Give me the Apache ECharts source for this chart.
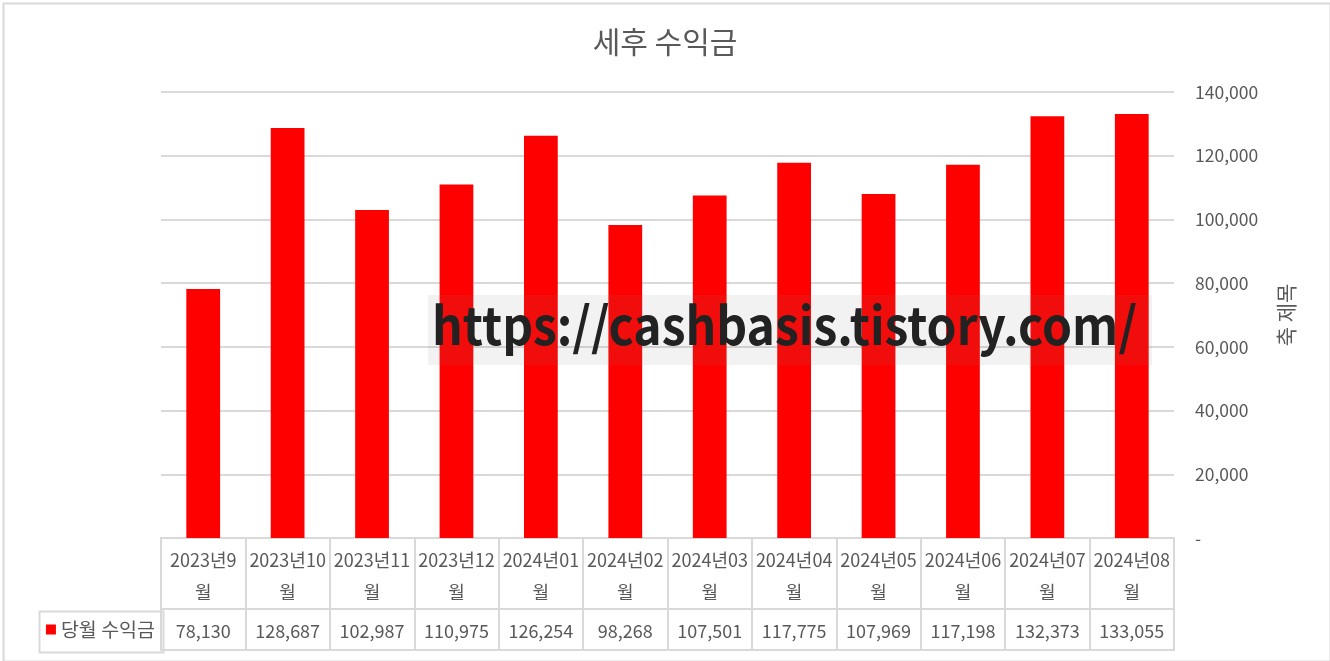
<!DOCTYPE html>
<html>
<head>
<meta charset="utf-8">
<script src="https://cdn.jsdelivr.net/npm/echarts@6/dist/echarts.min.js"></script>
<style>
    html, body { margin: 0; padding: 0; background: #fff; }
    #main { width: 1330px; height: 661px; }
</style>
</head>
<body>
<div id="main"></div>
<script>
// months shown in the data table (Excel wraps them in two lines)
var months = ['2023년9\n월', '2023년10\n월', '2023년11\n월', '2023년12\n월', '2024년01\n월', '2024년02\n월',
    '2024년03\n월', '2024년04\n월', '2024년05\n월', '2024년06\n월', '2024년07\n월', '2024년08\n월'];
var income = [78130, 128687, 102987, 110975, 126254, 98268, 107501, 117775, 107969, 117198, 132373, 133055];
var seriesName = '당월 수익금';
var chartTitle = '세후 수익금';
var axisTitle = '축 제목';
var watermark = 'https://cashbasis.tistory.com/';

var FONT = '"Noto Sans CJK KR", "Noto Sans", sans-serif';
var GREY = '#595959';
var LINE = '#d9d9d9';

function fmt(v) {
    return v === 0 ? '-' : v.toLocaleString('en-US');
}

let myChart = echarts.init(document.getElementById('main'));

let option = {
    animation: false,
    backgroundColor: '#fff',
    textStyle: {fontFamily: FONT},
    title: {
        text: chartTitle,
        left: 'center',
        top: 22,
        textStyle: {fontFamily: FONT, fontSize: 30, fontWeight: 'normal', color: GREY}
    },
    grid: [{
        // plot area
        left: 161, right: 156, top: 92, bottom: 123
    }, {
        // table row: months
        left: 161, right: 156, top: 538, height: 71,
        show: true, borderColor: LINE, borderWidth: 2
    }, {
        // table row: values
        left: 161, right: 156, top: 609, height: 41,
        show: true, borderColor: LINE, borderWidth: 2
    }],
    xAxis: [{
        gridIndex: 0,
        type: 'category',
        data: months,
        axisLine: {show: false},
        axisTick: {show: false},
        axisLabel: {show: false}
    }, {
        gridIndex: 1,
        type: 'category',
        data: months,
        axisLine: {show: false},
        axisTick: {show: false},
        splitLine: {show: true, interval: 0, lineStyle: {color: LINE, width: 2}},
        axisLabel: {
            inside: true,
            interval: 0,
            margin: 1,
            fontSize: 18,
            lineHeight: 32,
            color: GREY,
            fontFamily: FONT
        }
    }, {
        gridIndex: 2,
        type: 'category',
        data: income.map(fmt),
        axisLine: {show: false},
        axisTick: {show: false},
        splitLine: {show: true, interval: 0, lineStyle: {color: LINE, width: 2}},
        axisLabel: {
            inside: true,
            interval: 0,
            margin: 10,
            fontSize: 18,
            color: GREY,
            fontFamily: FONT
        }
    }],
    yAxis: [{
        gridIndex: 0,
        type: 'value',
        position: 'right',
        min: 0,
        max: 140000,
        interval: 20000,
        name: axisTitle,
        nameLocation: 'middle',
        nameRotate: 90,
        nameGap: 102,
        nameTextStyle: {fontFamily: FONT, fontSize: 21, color: GREY},
        axisLine: {show: false},
        axisTick: {show: false},
        splitLine: {lineStyle: {color: LINE, width: 2}},
        axisLabel: {
            formatter: fmt,
            margin: 21,
            fontSize: 17.5,
            color: GREY,
            fontFamily: FONT
        }
    }, {
        gridIndex: 1,
        type: 'value',
        show: false
    }, {
        gridIndex: 2,
        type: 'category',
        data: [seriesName],
        axisLine: {show: false},
        axisTick: {show: false},
        axisLabel: {
            margin: 6,
            formatter: function (v) { return '{sq|}{t|' + v + '}'; },
            rich: {
                sq: {backgroundColor: '#ff0000', width: 10, height: 10, padding: 0},
                t: {fontSize: 19.5, color: GREY, fontFamily: FONT, padding: [0, 0, 0, 5]}
            }
        }
    }],
    series: [{
        name: seriesName,
        type: 'bar',
        xAxisIndex: 0,
        yAxisIndex: 0,
        data: income,
        barCategoryGap: '60%',
        itemStyle: {color: '#ff0000'}
    }],
    graphic: [{
        // outer chart frame
        type: 'rect',
        left: 1, top: 1,
        shape: {width: 1327, height: 658},
        style: {fill: 'none', stroke: LINE, lineWidth: 2},
        silent: true
    }, {
        // legend cell of the data table
        type: 'rect',
        left: 37, top: 609,
        shape: {width: 124, height: 41},
        style: {fill: 'none', stroke: LINE, lineWidth: 2},
        silent: true
    }, {
        // blog watermark pasted over the chart
        type: 'rect',
        left: 428, top: 295,
        zlevel: 1,
        shape: {width: 724, height: 70},
        style: {fill: 'rgba(128,128,128,0.1)'}
    }, {
        type: 'text',
        x: 432, y: 299,
        scaleX: 0.925,
        zlevel: 1,
        style: {
            text: watermark,
            fontFamily: '"Noto Sans CJK KR", sans-serif',
            fontWeight: 'bold',
            fontSize: 52,
            fill: '#222'
        }
    }]
};

myChart.setOption(option);
</script>
</body>
</html>
